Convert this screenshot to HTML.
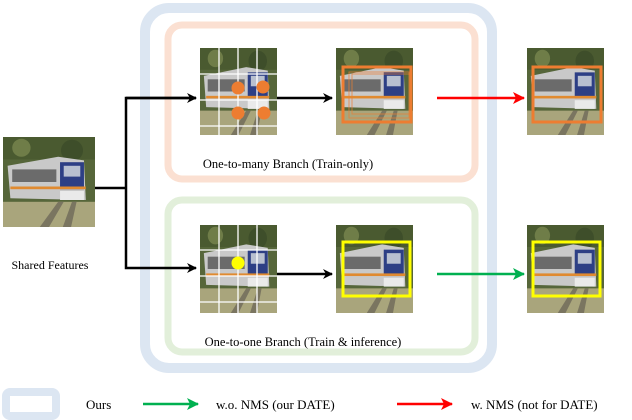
<!DOCTYPE html>
<html><head><style>
body{margin:0;background:#fff;}
svg{display:block;font-family:"Liberation Serif",serif;}
</style></head><body>
<svg width="632" height="420" viewBox="0 0 632 420">
<defs>
<symbol id="tr" viewBox="0 0 100 100" preserveAspectRatio="none">
<rect width="100" height="100" fill="#56663a"/>
<rect x="0" y="0" width="100" height="25" fill="#4a5a30"/>
<circle cx="20" cy="12" r="10" fill="#6f7d48"/>
<circle cx="75" cy="15" r="12" fill="#3e4e2a"/>
<rect x="0" y="72" width="100" height="28" fill="#a9a57c"/>
<path d="M40 100 L60 72 L66 72 L50 100Z" fill="#7a7560"/>
<path d="M65 100 L75 72 L80 72 L74 100Z" fill="#7a7560"/>
<path d="M5 32 L60 22 L88 26 L90 70 L8 68Z" fill="#c9c9c9"/>
<rect x="62" y="28" width="26" height="30" fill="#2d3f85"/>
<rect x="66" y="32" width="18" height="12" fill="#b8c0d0"/>
<rect x="10" y="36" width="48" height="14" fill="#6b6b6b"/>
<rect x="8" y="55" width="82" height="3" fill="#e08a30"/>
<rect x="62" y="60" width="26" height="10" fill="#eaeaea"/>
</symbol>
<marker id="ak" markerWidth="10" markerHeight="10" refX="9" refY="5" orient="auto" markerUnits="userSpaceOnUse"><path d="M0 0 L10 5 L0 10 L3 5Z" fill="#000"/></marker>
<marker id="ar" markerWidth="12" markerHeight="12" refX="11" refY="6" orient="auto" markerUnits="userSpaceOnUse"><path d="M0 0 L12 6 L0 12 L3 6Z" fill="#f00"/></marker>
<marker id="ag" markerWidth="12" markerHeight="12" refX="11" refY="6" orient="auto" markerUnits="userSpaceOnUse"><path d="M0 0 L12 6 L0 12 L3 6Z" fill="#00b050"/></marker>
</defs>
<rect x="145" y="8" width="347" height="360" rx="24" fill="none" stroke="#dce6f2" stroke-width="10"/>
<rect x="168" y="25" width="307" height="154" rx="14" fill="none" stroke="#fbe0d2" stroke-width="7"/>
<rect x="168" y="200" width="307" height="152" rx="14" fill="none" stroke="#e2efda" stroke-width="7"/>

<use href="#tr" x="3" y="137" width="92" height="90"/>
<text x="50" y="269" font-size="12" text-anchor="middle">Shared Features</text>

<use href="#tr" x="200" y="48" width="77" height="87"/>
<use href="#tr" x="336" y="48" width="77" height="87"/>
<use href="#tr" x="527" y="48" width="77" height="87"/>
<use href="#tr" x="200" y="225" width="77" height="88"/>
<use href="#tr" x="336" y="225" width="77" height="88"/>
<use href="#tr" x="527" y="225" width="77" height="88"/>

<g stroke="#fff" stroke-width="1.3">
<line x1="219" y1="48" x2="219" y2="135"/><line x1="238" y1="48" x2="238" y2="135"/><line x1="257" y1="48" x2="257" y2="135"/>
<line x1="200" y1="74" x2="277" y2="74"/><line x1="200" y1="100" x2="277" y2="100"/><line x1="200" y1="126" x2="277" y2="126"/>
<line x1="219" y1="225" x2="219" y2="313"/><line x1="238" y1="225" x2="238" y2="313"/><line x1="257" y1="225" x2="257" y2="313"/>
<line x1="200" y1="250" x2="277" y2="250"/><line x1="200" y1="276" x2="277" y2="276"/><line x1="200" y1="302" x2="277" y2="302"/>
</g>
<g fill="#ed7d31"><circle cx="238" cy="88" r="6.5"/><circle cx="263" cy="87" r="6.5"/><circle cx="238" cy="113" r="6.5"/><circle cx="264" cy="113" r="6.5"/></g>
<circle cx="238" cy="263" r="6.5" fill="#ffff00"/>

<g fill="none" stroke="#ed7d31">
<rect x="343" y="67" width="68" height="55" stroke-width="3"/>
<rect x="349" y="72" width="60" height="46" stroke-width="1" opacity=".7"/>
<rect x="352" y="74" width="58" height="40" stroke-width="1" opacity=".7"/>
<rect x="533" y="67" width="68" height="55" stroke-width="3"/>
</g>
<rect x="343" y="242" width="67" height="54" fill="none" stroke="#ffff00" stroke-width="3"/>
<rect x="533" y="242" width="67" height="54" fill="none" stroke="#ffff00" stroke-width="3"/>

<g stroke="#000" stroke-width="2.5" fill="none">
<line x1="95" y1="188" x2="126" y2="188"/>
<polyline points="196,98 126,98 126,268 196,268" marker-end="url(#ak)"/>
<line x1="126" y1="98" x2="196" y2="98" marker-end="url(#ak)"/>
<line x1="277" y1="98" x2="332" y2="98" marker-end="url(#ak)"/>
<line x1="277" y1="274" x2="332" y2="274" marker-end="url(#ak)"/>
</g>
<line x1="437" y1="98" x2="524" y2="98" stroke="#f00" stroke-width="2.5" marker-end="url(#ar)"/>
<line x1="437" y1="274" x2="524" y2="274" stroke="#00b050" stroke-width="2.5" marker-end="url(#ag)"/>

<text x="288" y="168" font-size="12.5" text-anchor="middle">One-to-many Branch (Train-only)</text>
<text x="303" y="346" font-size="12.5" text-anchor="middle">One-to-one Branch (Train &amp; inference)</text>

<rect x="6" y="392" width="50" height="24" rx="4" fill="none" stroke="#dce6f2" stroke-width="8"/>
<text x="86" y="409" font-size="13">Ours</text>
<line x1="143" y1="404" x2="198" y2="404" stroke="#00b050" stroke-width="2.5" marker-end="url(#ag)"/>
<text x="216" y="409" font-size="13">w.o. NMS (our DATE)</text>
<line x1="397" y1="404" x2="452" y2="404" stroke="#f00" stroke-width="2.5" marker-end="url(#ar)"/>
<text x="471" y="409" font-size="13">w. NMS (not for DATE)</text>
</svg>
</body></html>
